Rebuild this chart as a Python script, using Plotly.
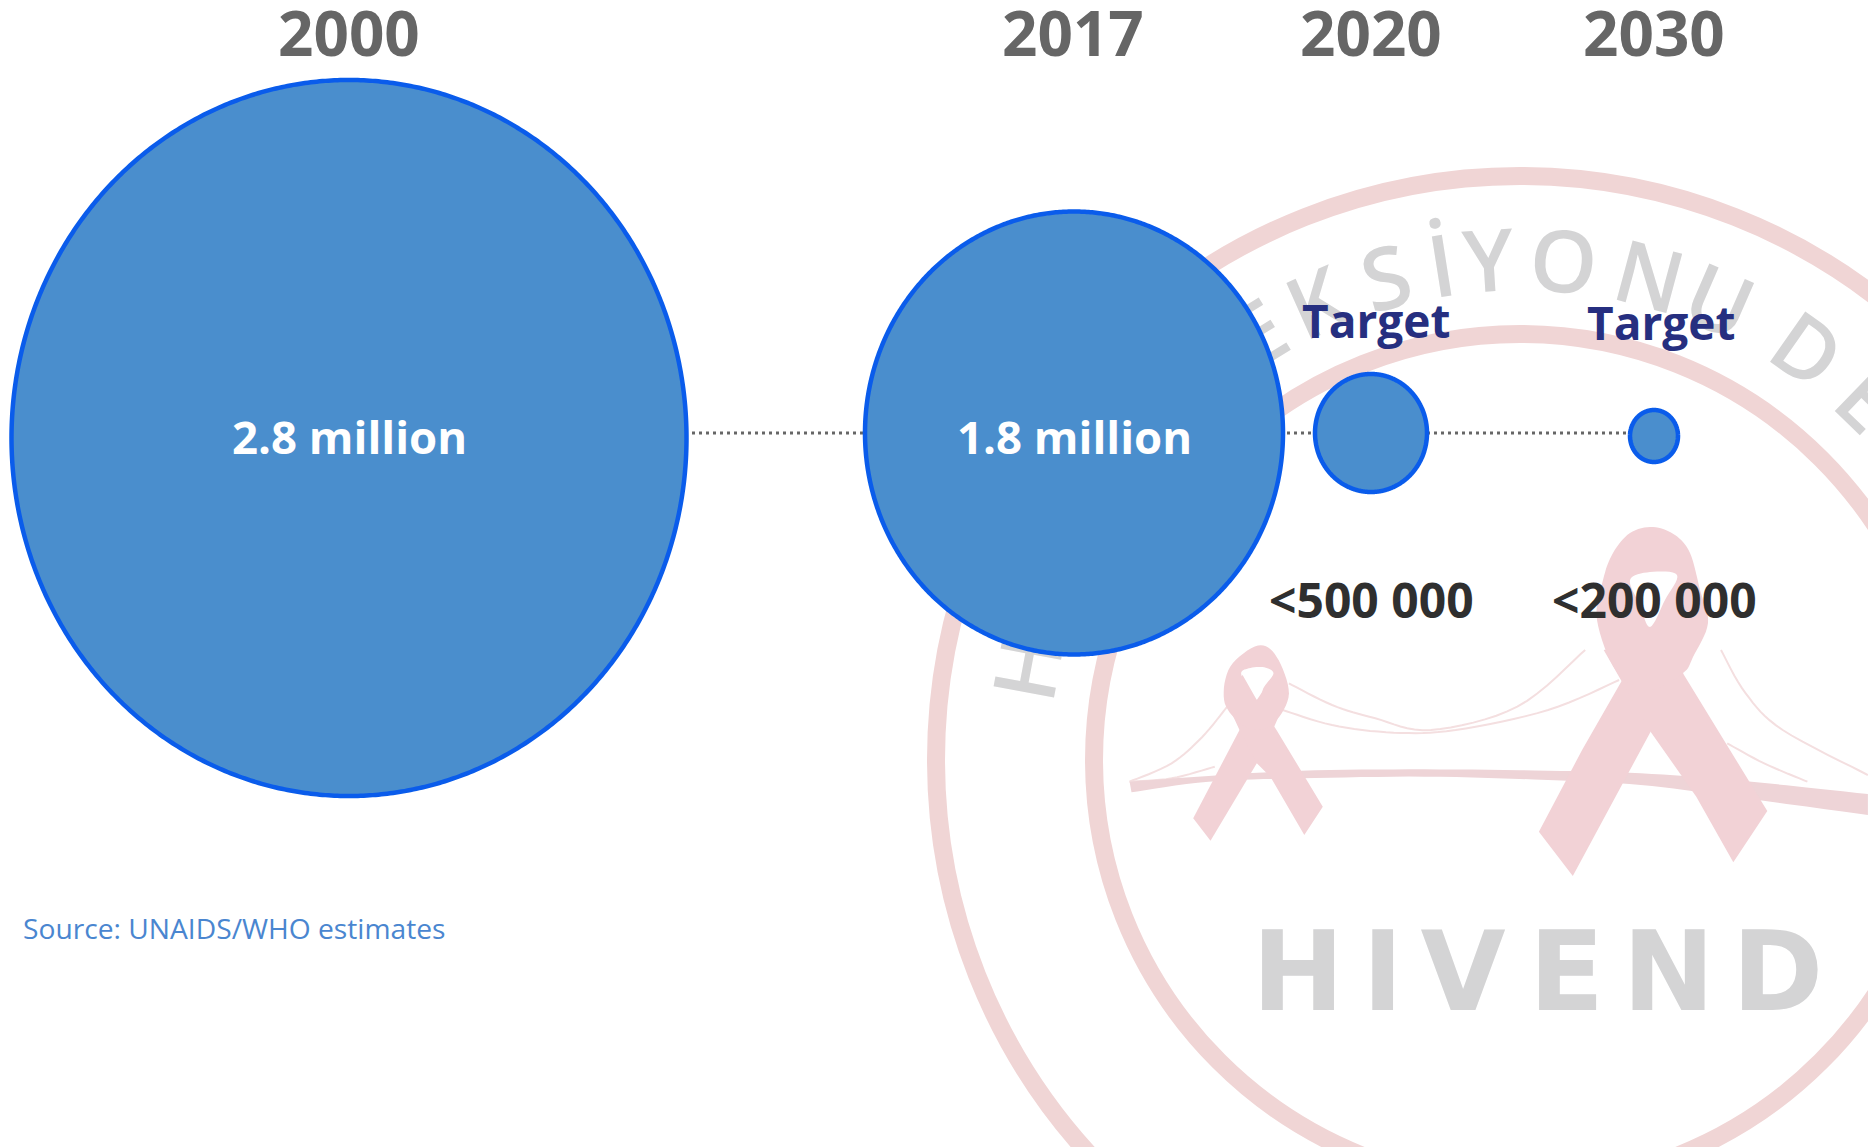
import numpy as np
import plotly.graph_objects as go

# ---- data ----
years = ["2000", "2017", "2020", "2030"]
infections_millions = [2.8, 1.8, 0.5, 0.2]
value_labels = ["2.8 million", "1.8 million", "<500 000", "<200 000"]
target_flags = ["", "", "Target", "Target"]
source_text = "Source: UNAIDS/WHO estimates"

# ---- layout (pixel canvas) ----
W, H = 1868, 1147
cx = [349, 1074, 1371, 1654]
cy = [438, 433, 433, 436]
bw = [675, 418, 112, 48]
bh = [716, 443, 118, 52]
BLUE = "#4a8ecd"
EDGE = "#0a5ceb"
PINK = "#f2d2d6"
RING = "#f0d5d5"
GREY = "#d4d4d5"
FONT = "Open Sans"


def z1(x, y):
    return 900 + x / 1.62, 150 + y / 2.613


def z2(x, y):
    return 900 + x / 1.62, 650 + y / 3


def smooth(pts, closed=False, n=8):
    p = np.array(pts, dtype=float)
    if closed:
        p = np.vstack([p[-1], p, p[0], p[1]])
    else:
        p = np.vstack([p[0], p, p[-1]])
    out = []
    for i in range(1, len(p) - 2):
        for t in np.linspace(0, 1, n, endpoint=False):
            a = 2 * p[i] + t * (p[i + 1] - p[i - 1])
            b = t * t * (2 * p[i - 1] - 5 * p[i] + 4 * p[i + 1] - p[i + 2])
            c = t ** 3 * (-p[i - 1] + 3 * p[i] - 3 * p[i + 1] + p[i + 2])
            out.append(tuple(0.5 * (a + b + c)))
    if not closed:
        out.append(tuple(p[-2]))
    return out


def path(pts, close=True):
    s = "M " + " L ".join(f"{a:.1f},{b:.1f}" for a, b in pts)
    return s + (" Z" if close else "")


shapes = []
# rings
RCX, RCY = 1520, 760
for r in (584, 426):
    shapes.append(dict(type="circle", layer="below", xref="x", yref="y",
                       x0=RCX - r, x1=RCX + r, y0=RCY - r, y1=RCY + r,
                       line=dict(color=RING, width=18), fillcolor="rgba(0,0,0,0)"))

# bridge cables
cables = [
    [(372, 395), (440, 340), (490, 260), (530, 170)],
    [(372, 395), (440, 385), (510, 350)],
    [(630, 100), (700, 165), (770, 205), (860, 240), (1000, 170), (1110, 0)],
    [(620, 180), (700, 225), (800, 248), (900, 240), (1050, 180), (1165, 90)],
    [(1330, 0), (1370, 130), (1430, 240), (1568, 375)],
    [(1340, 280), (1400, 340), (1470, 395)],
]
for c in cables:
    shapes.append(dict(type="path", layer="below", xref="x", yref="y",
                       path=path(smooth([z2(*p) for p in c]), False),
                       line=dict(color="#f4dfe0", width=2), fillcolor="rgba(0,0,0,0)"))

# bridge deck
deck_top = [(372, 395), (500, 378), (650, 362), (850, 358), (1050, 362), (1200, 370), (1350, 390), (1568, 432)]
deck_bot = [(1568, 495), (1350, 440), (1200, 405), (1050, 390), (850, 380), (650, 385), (500, 395), (375, 427)]
shapes.append(dict(type="path", layer="below", xref="x", yref="y",
                   path=path(smooth([z2(*p) for p in deck_top]) + smooth([z2(*p) for p in deck_bot])),
                   line=dict(width=0), fillcolor="#eed4d7"))

# ribbons
polys = [
    [(605, 75), (630, 130), (605, 235), (578, 340), (503, 572), (475, 505), (550, 240), (578, 150)],
    [(525, 140), (555, 75), (578, 150), (610, 240), (685, 470), (655, 555), (600, 380), (578, 340), (550, 240)],
    [(1290, -60), (1250, 100), (1216, 245), (1090, 678), (1035, 545), (1105, 300), (1170, 90), (1175, -40)],
    [(1140, 0), (1216, 245), (1290, 440), (1350, 637), (1405, 483), (1270, 75), (1240, -40)],
]
for p in polys:
    shapes.append(dict(type="path", layer="below", xref="x", yref="y",
                       path=path([z2(*q) for q in p]),
                       line=dict(width=0), fillcolor=PINK))

small_loop = [z2(525, 150), z2(535, 50), z1(580, 1295), z2(610, 20), z2(630, 130), z2(608, 215), z2(578, 240), z2(548, 215)]
small_hole = [z2(553, 75), z2(565, 55), z2(590, 52), z2(605, 70), z2(590, 110), z2(578, 150)]
big_outer = [(1597, 620), (1603, 580), (1613, 553), (1630, 533), (1653, 527), (1675, 535), (1690, 553),
             (1700, 590), (1708, 623), (1693, 657), (1683, 673), (1650, 690), (1617, 672)]
big_hole = [(1630, 580), (1650, 572), (1677, 575), (1665, 600), (1650, 627), (1640, 605)]
for o, h in ((small_loop, small_hole), (big_outer, big_hole)):
    shapes.append(dict(type="path", layer="below", xref="x", yref="y",
                       path=path(smooth(o, True)) + " " + path(smooth(h, True)), fillrule="evenodd",
                       line=dict(width=0), fillcolor=PINK))


def letter(ch, x, y, size, angle=0, family="Liberation Sans", bold=False, weight=None):
    font = dict(family=family, size=size, color=GREY)
    if weight:
        font["weight"] = weight
    shapes.append(dict(type="rect", layer="below", xref="x", yref="y",
                       x0=x - 1, x1=x + 1, y0=y - 1, y1=y + 1,
                       line=dict(width=0), fillcolor="rgba(0,0,0,0)",
                       label=dict(text=f"<b>{ch}</b>" if bold else ch, textangle=angle,
                                  textposition="middle center", font=font)))


# curved watermark text
ring_letters = ["H", "E", "K", "S", "İ", "Y", "O", "N", "U", "D", "E"]
ring_angles = [-79.4, -31.5, -24, -15.5, -9, -3.6, 5, 15, 23.5, 35, 44]
ring_radius = 497
for ch, a in zip(ring_letters, ring_angles):
    t = np.radians(a)
    letter(ch, RCX + ring_radius * np.sin(t), RCY - ring_radius * np.cos(t), 86, a,
           family="Open Sans", weight=600)

# HIVEND
for ch, zx in zip("HIVEND", [645, 782, 912, 1080, 1245, 1422]):
    x, _ = z2(zx, 0)
    letter(ch, x, 964, 110, 0, family="DejaVu Sans", bold=True)

fig = go.Figure()

# dotted connector
fig.add_trace(go.Scatter(x=[cx[0], cx[-1]], y=[433, 433], mode="lines",
                         line=dict(color="#666666", width=3, dash="3px,4px"),
                         hoverinfo="skip", showlegend=False))

# bubbles
th = np.linspace(0, 2 * np.pi, 721)
for i, yr in enumerate(years):
    fig.add_trace(go.Scatter(
        x=cx[i] + bw[i] / 2 * np.cos(th), y=cy[i] + bh[i] / 2 * np.sin(th),
        mode="lines", fill="toself", fillcolor=BLUE,
        line=dict(color=EDGE, width=4.5, simplify=False), name=yr,
        hovertext=f"{yr}: {infections_millions[i]} million", hoverinfo="text", showlegend=False))

ann = []
year_x = [349, 1073, 1371, 1654]
for x, yr in zip(year_x, years):
    ann.append(dict(x=x, y=32, text=f"<b>{yr}</b>",
                    font=dict(size=62, color="#666666", family=FONT)))
for x, y, t in zip(cx[:2], [436, 436], value_labels[:2]):
    ann.append(dict(x=x, y=y, text=f"<b>{t}</b>", font=dict(size=45.5, color="white", family=FONT)))
for x, y, t in zip([1371, 1654], [599, 599], value_labels[2:]):
    ann.append(dict(x=x, y=y, text=f"<b>{t}</b>", font=dict(size=48, color="#2f2f2f", family=FONT)))
for x, y, t in zip([1376, 1661], [320, 322], target_flags[2:]):
    ann.append(dict(x=x, y=y, text=f"<b>{t}</b>", font=dict(size=46, color="#262f80", family=FONT)))
ann.append(dict(x=21, y=928, xanchor="left", text=source_text,
                font=dict(size=28.2, color="#4a86d0", family=FONT)))
for a in ann:
    a.update(xref="x", yref="y", showarrow=False)
    a.setdefault("xanchor", "center")
    a.setdefault("yanchor", "middle")

fig.update_layout(
    width=W, height=H, margin=dict(l=0, r=0, t=0, b=0),
    paper_bgcolor="white", plot_bgcolor="white",
    xaxis=dict(range=[0, W], visible=False, fixedrange=True),
    yaxis=dict(range=[H, 0], visible=False, fixedrange=True),
    shapes=shapes, annotations=ann, showlegend=False,
)
fig.write_html("out.html", config=dict(displayModeBar=False),
               post_script="document.body.style.margin='0';")
